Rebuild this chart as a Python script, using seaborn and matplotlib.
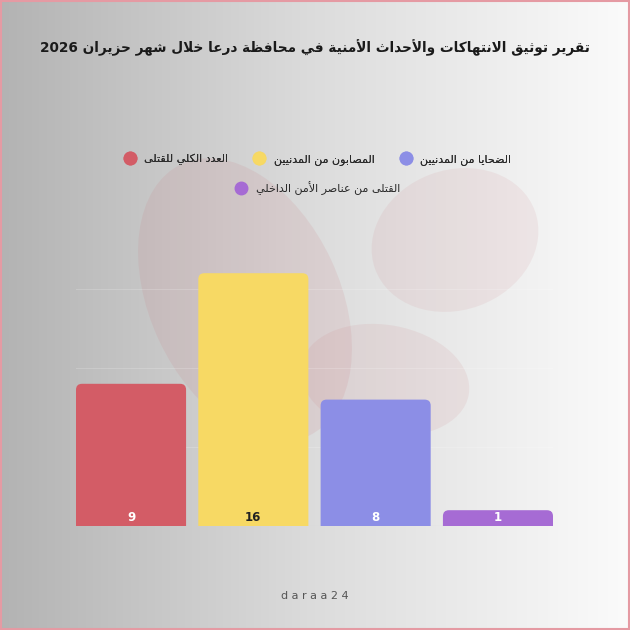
import re
import numpy as np
import pandas as pd
import seaborn as sns
import matplotlib.pyplot as plt
from matplotlib.lines import Line2D
from matplotlib.patches import Ellipse, Rectangle, FancyBboxPatch

# data
categories = ["العدد الكلي للقتلى", "المصابون من المدنيين", "الضحايا من المدنيين",
              "القتلى من عناصر الأمن الداخلي"]
values = [9, 16, 8, 1]
colors = ["#d35c66", "#f7d964", "#8c8ee6", "#a66bd4"]
label_colors = ["white", "#222222", "white", "white"]
title = "تقرير توثيق الانتهاكات والأحداث الأمنية في محافظة درعا خلال شهر حزيران 2026"

# minimal arabic shaping: (isolated, final, initial, medial)
FORMS = {
    'ء': ('\ufe80', None, None, None),
    'آ': ('\ufe81', '\ufe82', None, None),
    'أ': ('\ufe83', '\ufe84', None, None),
    'ؤ': ('\ufe85', '\ufe86', None, None),
    'إ': ('\ufe87', '\ufe88', None, None),
    'ئ': ('\ufe89', '\ufe8a', '\ufe8b', '\ufe8c'),
    'ا': ('\ufe8d', '\ufe8e', None, None),
    'ب': ('\ufe8f', '\ufe90', '\ufe91', '\ufe92'),
    'ة': ('\ufe93', '\ufe94', None, None),
    'ت': ('\ufe95', '\ufe96', '\ufe97', '\ufe98'),
    'ث': ('\ufe99', '\ufe9a', '\ufe9b', '\ufe9c'),
    'ج': ('\ufe9d', '\ufe9e', '\ufe9f', '\ufea0'),
    'ح': ('\ufea1', '\ufea2', '\ufea3', '\ufea4'),
    'خ': ('\ufea5', '\ufea6', '\ufea7', '\ufea8'),
    'د': ('\ufea9', '\ufeaa', None, None),
    'ذ': ('\ufeab', '\ufeac', None, None),
    'ر': ('\ufead', '\ufeae', None, None),
    'ز': ('\ufeaf', '\ufeb0', None, None),
    'س': ('\ufeb1', '\ufeb2', '\ufeb3', '\ufeb4'),
    'ش': ('\ufeb5', '\ufeb6', '\ufeb7', '\ufeb8'),
    'ص': ('\ufeb9', '\ufeba', '\ufebb', '\ufebc'),
    'ض': ('\ufebd', '\ufebe', '\ufebf', '\ufec0'),
    'ط': ('\ufec1', '\ufec2', '\ufec3', '\ufec4'),
    'ظ': ('\ufec5', '\ufec6', '\ufec7', '\ufec8'),
    'ع': ('\ufec9', '\ufeca', '\ufecb', '\ufecc'),
    'غ': ('\ufecd', '\ufece', '\ufecf', '\ufed0'),
    'ف': ('\ufed1', '\ufed2', '\ufed3', '\ufed4'),
    'ق': ('\ufed5', '\ufed6', '\ufed7', '\ufed8'),
    'ك': ('\ufed9', '\ufeda', '\ufedb', '\ufedc'),
    'ل': ('\ufedd', '\ufede', '\ufedf', '\ufee0'),
    'م': ('\ufee1', '\ufee2', '\ufee3', '\ufee4'),
    'ن': ('\ufee5', '\ufee6', '\ufee7', '\ufee8'),
    'ه': ('\ufee9', '\ufeea', '\ufeeb', '\ufeec'),
    'و': ('\ufeed', '\ufeee', None, None),
    'ى': ('\ufeef', '\ufef0', None, None),
    'ي': ('\ufef1', '\ufef2', '\ufef3', '\ufef4'),
}
LAM_ALEF = {'آ': ('\ufef5', '\ufef6'), 'أ': ('\ufef7', '\ufef8'),
            'إ': ('\ufef9', '\ufefa'), 'ا': ('\ufefb', '\ufefc')}


def joins_next(c):
    return c in FORMS and FORMS[c][2] is not None


def joins_prev(c):
    return c in FORMS and FORMS[c][1] is not None


def ar(text):
    out = []
    i = 0
    n = len(text)
    while i < n:
        c = text[i]
        if c not in FORMS:
            out.append(c)
            i += 1
            continue
        prev = text[i - 1] if i > 0 else ''
        cp = joins_next(prev)
        if c == 'ل' and i + 1 < n and text[i + 1] in LAM_ALEF:
            iso, fin = LAM_ALEF[text[i + 1]]
            out.append(fin if cp else iso)
            i += 2
            continue
        nxt = text[i + 1] if i + 1 < n else ''
        cn = joins_next(c) and joins_prev(nxt)
        iso, fin, ini, med = FORMS[c]
        if cp and cn:
            out.append(med)
        elif cp:
            out.append(fin)
        elif cn:
            out.append(ini)
        else:
            out.append(iso)
        i += 1
    s = ''.join(out)
    parts = re.split(r'([0-9A-Za-z]+)', s)
    return ''.join(p if re.fullmatch(r'[0-9A-Za-z]+', p) else p[::-1] for p in reversed(parts))


plt.rcParams['font.family'] = ['DejaVu Sans']

fig = plt.figure(figsize=(6.3, 6.3), dpi=100)

# background gradient + soft watermark
bg = fig.add_axes([0, 0, 1, 1], zorder=-10)
grad = np.linspace(0, 1, 256)[None, :]
bg.imshow(grad, aspect='auto', cmap=sns.blend_palette(["#b3b3b3", "#dcdcdc", "#fbfbfb"], as_cmap=True),
          extent=[0, 630, 0, 630])
for (cx, cy, w, h, ang, a) in [(245, 330, 190, 300, 25, 0.13), (385, 250, 170, 110, -10, 0.11),
                               (455, 390, 170, 140, 20, 0.10)]:
    bg.add_patch(Ellipse((cx, cy), w, h, angle=ang, color="#c9757c", alpha=a, lw=0))
bg.add_patch(Rectangle((1, 1), 628, 628, fill=False, edgecolor="#e59aa3", lw=1.5))
bg.set_xlim(0, 630)
bg.set_ylim(0, 630)
bg.axis('off')

# bars
df = pd.DataFrame({"category": categories, "value": values})
ax = fig.add_axes([76 / 630, 104 / 630, 477 / 630, 17 * 15.8 / 630])
ax.set_facecolor("none")
sns.barplot(data=df, x="category", y="value", hue="category", palette=colors,
            width=0.9, legend=False, ax=ax, saturation=1)
ax.set_xlim(-0.45, 3.45)
ax.set_ylim(0, 17)

# rounded tops
px_x = 477 / 3.9
px_y = 15.8
for p, col in zip(list(ax.patches), colors):
    x, w, h = p.get_x(), p.get_width(), p.get_height()
    p.remove()
    r = 6 / px_x
    ax.add_patch(FancyBboxPatch((x, -1), w, h + 1, boxstyle=f"round,pad=0,rounding_size={r}",
                                mutation_aspect=px_x / px_y, facecolor=col, lw=0, zorder=3))

for i, (v, lc) in enumerate(zip(values, label_colors)):
    ax.text(i, 0.12, str(v), ha='center', va='bottom', color=lc, fontsize=8.5, fontweight='bold', zorder=4)

ax.set_yticks([5, 10, 15])
ax.grid(axis='y', color='white', alpha=0.18, lw=0.8)
ax.set_axisbelow(True)
ax.tick_params(left=False, bottom=False, labelleft=False, labelbottom=False)
ax.set_xlabel("")
ax.set_ylabel("")
sns.despine(ax=ax, left=True, bottom=True)
ax.axhline(0, color="#cfcfcf", lw=0.8, zorder=2)

# title
fig.text(0.5, 1 - 48 / 630, ar(title), ha='center', va='center', fontsize=9.8,
         fontweight='bold', color="#1a1a1a")

# legends (markers to the left of text, first row of three, second row one)
def handle(c):
    return Line2D([], [], marker='o', linestyle='', markersize=9, markerfacecolor=c, markeredgecolor=c)

leg1 = fig.legend([handle(colors[0]), handle(colors[1]), handle(colors[2])],
                  [ar(categories[0]), ar(categories[1]), ar(categories[2])],
                  loc='center', bbox_to_anchor=(0.5, 1 - 159 / 630), ncol=3, frameon=False,
                  fontsize=8, handletextpad=0.3, columnspacing=1.8, labelcolor="#2a2a2a")
fig.add_artist(leg1)
fig.legend([handle(colors[3])], [ar(categories[3])], loc='center',
           bbox_to_anchor=(0.5, 1 - 188 / 630), frameon=False, fontsize=8,
           handletextpad=0.3, labelcolor="#2a2a2a")

# footer
fig.text(0.5, 1 - 596 / 630, "d a r a a 2 4", ha='center', va='center', fontsize=8, color="#555555")

fig.savefig("out.png", dpi=100)
